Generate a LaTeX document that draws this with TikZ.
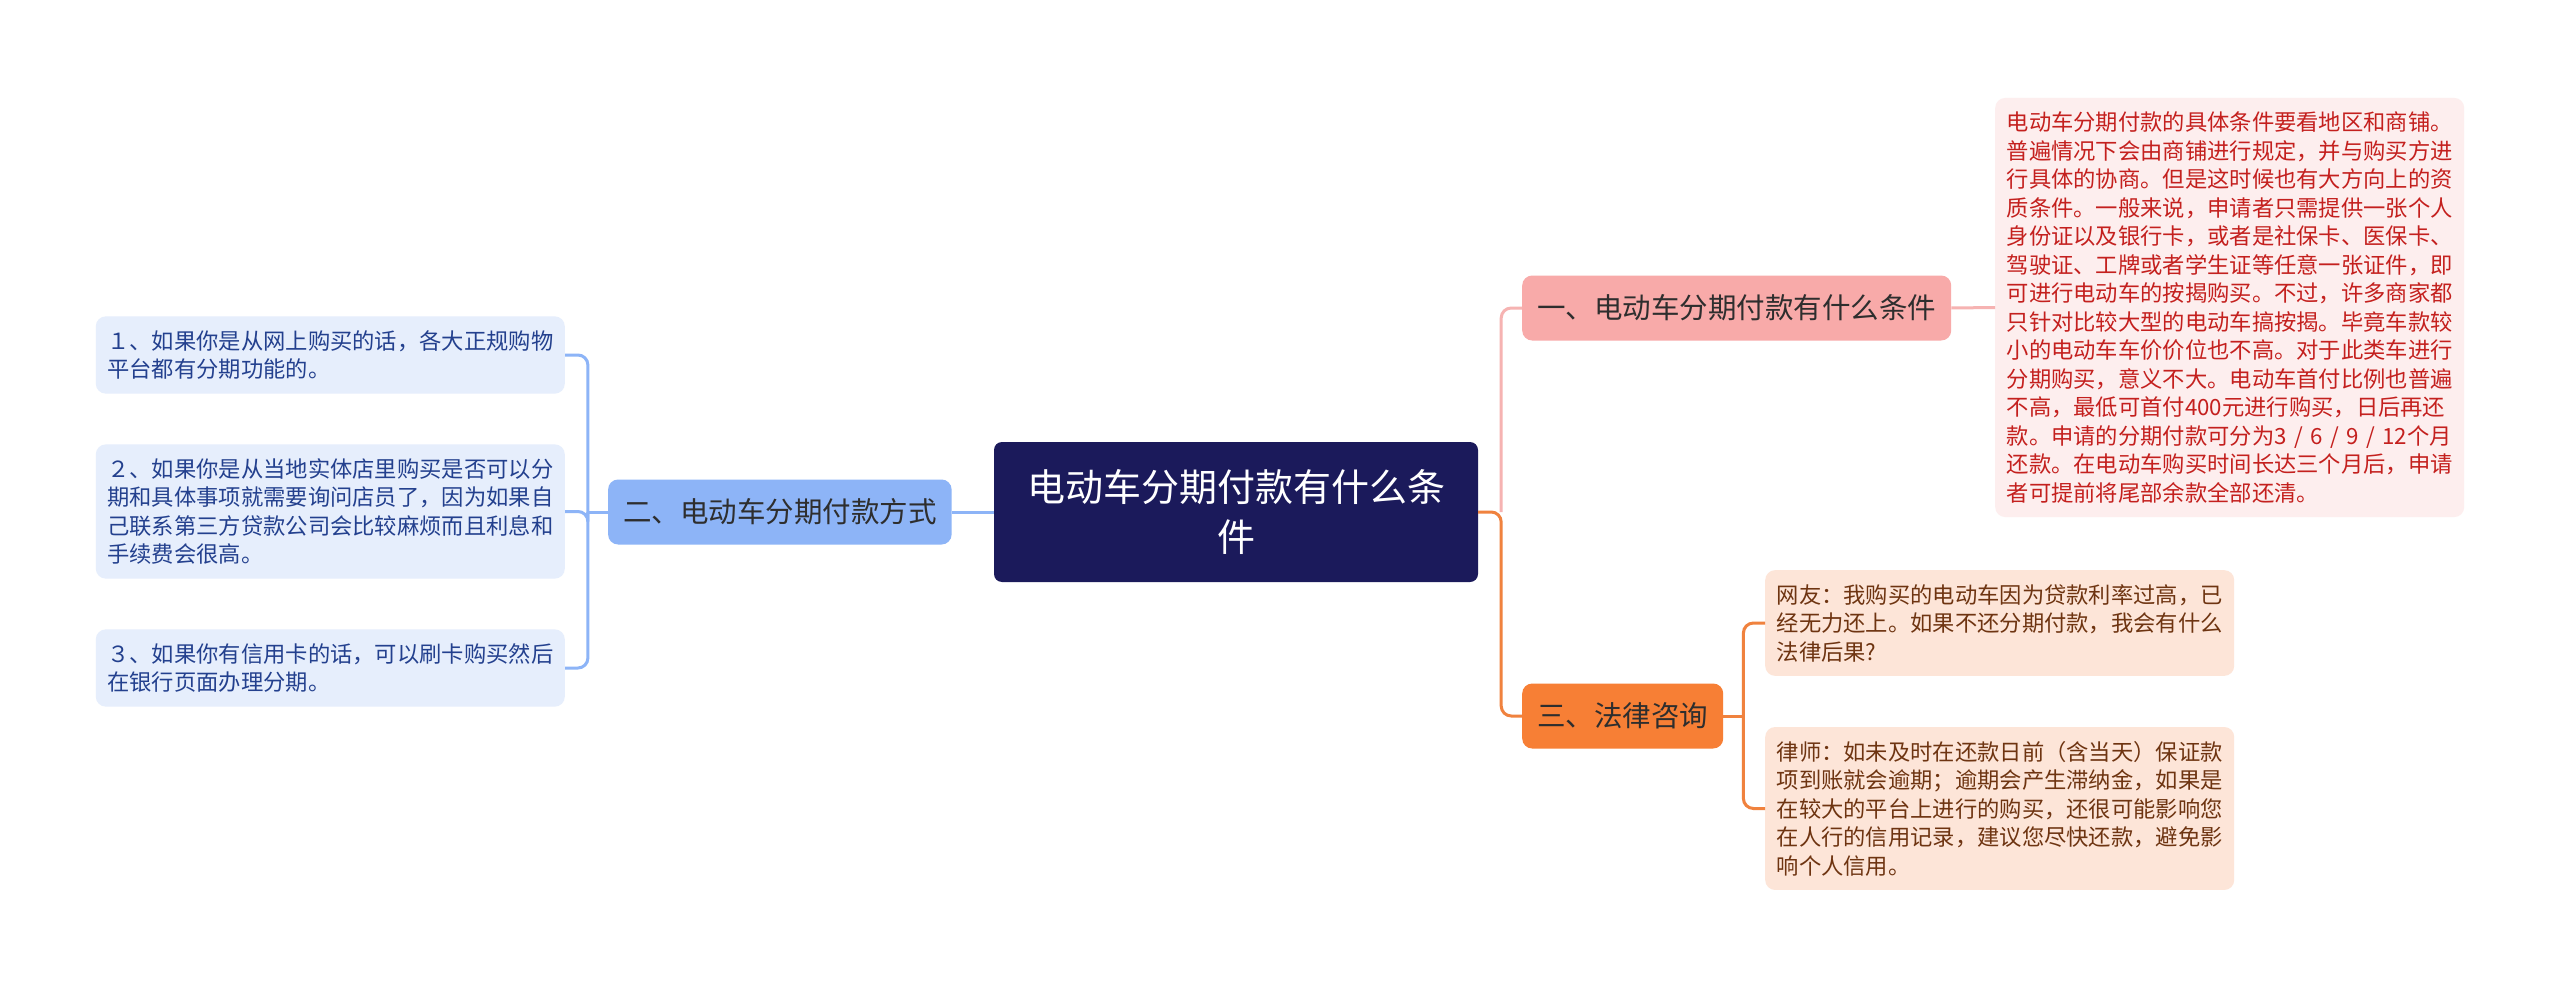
\documentclass[tikz,border=0pt]{standalone}
\usepackage{fontspec}
\setmainfont{Noto Sans CJK SC}
\usepackage{tikz}
\usetikzlibrary{positioning}

\definecolor{rootfill}{HTML}{1B1A5B}
\definecolor{bluefill}{HTML}{8DB4F7}
\definecolor{blueleaf}{HTML}{E6EEFC}
\definecolor{bluetext}{HTML}{23408E}
\definecolor{pinkfill}{HTML}{F8AAA9}
\definecolor{pinkline}{HTML}{F6B3B2}
\definecolor{pinkleaf}{HTML}{FDEEEE}
\definecolor{pinktext}{HTML}{C4201E}
\definecolor{orangefill}{HTML}{F77F35}
\definecolor{orangeline}{HTML}{F0823E}
\definecolor{peachleaf}{HTML}{FDE5D8}
\definecolor{peachtext}{HTML}{6E3411}
\definecolor{branchtext}{HTML}{2E2E2E}

\begin{document}
\begin{tikzpicture}[
  x=1pt, y=1pt,
  root/.style={rectangle, rounded corners=8pt, fill=rootfill, text=white, font=\fontsize{38}{50}\selectfont, text width=424pt, align=center, inner xsep=30pt, minimum height=140pt},
  branch/.style={rectangle, rounded corners=10pt, text=branchtext, font=\fontsize{28.5}{34}\selectfont, inner xsep=15pt, minimum height=65pt},
  leaf/.style={rectangle, rounded corners=10pt, font=\fontsize{22.3}{28.5}\selectfont, align=left, text width=446pt, inner xsep=11.5pt, inner ysep=14pt},
  link/.style={line width=3pt, rounded corners=10pt}
]
  \useasboundingbox[fill=white] (0,0) rectangle (2560,-987);

  % centre and main branches
  \node[root] (root) at (1236,-512) {电动车分期付款有什么条\\件};
  \node[branch, fill=bluefill, left=42pt of root] (way) {二、电动车分期付款方式};
  \node[branch, fill=pinkfill, anchor=west] (cond) at (1522,-308) {一、电动车分期付款有什么条件};
  \node[branch, fill=orangefill, anchor=west] (law) at (1522,-716) {三、法律咨询};

  % left leaves
  \node[leaf, fill=blueleaf, text=bluetext, anchor=east] (online) at (565,-355) {１、如果你是从网上购买的话，各大正规购物\\平台都有分期功能的。};
  \node[leaf, fill=blueleaf, text=bluetext, anchor=east] (store) at (565,-511.5) {２、如果你是从当地实体店里购买是否可以分\\期和具体事项就需要询问店员了，因为如果自\\己联系第三方贷款公司会比较麻烦而且利息和\\手续费会很高。};
  \node[leaf, fill=blueleaf, text=bluetext, anchor=east] (card) at (565,-668) {３、如果你有信用卡的话，可以刷卡购买然后\\在银行页面办理分期。};

  % right leaves
  \node[leaf, fill=pinkleaf, text=pinktext, anchor=west] (detail) at (1995,-307.5) {电动车分期付款的具体条件要看地区和商铺。\\普遍情况下会由商铺进行规定，并与购买方进\\行具体的协商。但是这时候也有大方向上的资\\质条件。一般来说，申请者只需提供一张个人\\身份证以及银行卡，或者是社保卡、医保卡、\\驾驶证、工牌或者学生证等任意一张证件，即\\可进行电动车的按揭购买。不过，许多商家都\\只针对比较大型的电动车搞按揭。毕竟车款较\\小的电动车车价价位也不高。对于此类车进行\\分期购买，意义不大。电动车首付比例也普遍\\不高，最低可首付400元进行购买，日后再还\\款。申请的分期付款可分为3 / 6 / 9 / 12个月\\还款。在电动车购买时间长达三个月后，申请\\者可提前将尾部余款全部还清。};
  \node[leaf, fill=peachleaf, text=peachtext, anchor=west] (ask) at (1765,-623) {网友：我购买的电动车因为贷款利率过高，已\\经无力还上。如果不还分期付款，我会有什么\\法律后果?};
  \node[leaf, fill=peachleaf, text=peachtext, anchor=west] (reply) at (1765,-808.5) {律师：如未及时在还款日前（含当天）保证款\\项到账就会逾期；逾期会产生滞纳金，如果是\\在较大的平台上进行的购买，还很可能影响您\\在人行的信用记录，建议您尽快还款，避免影\\响个人信用。};

  % connectors
  \path (way.west) ++(-20pt,0) coordinate (wayhub);
  \path (root.east) ++(23pt,0) coordinate (roothub);
  \path (law.east) ++(20pt,0) coordinate (lawhub);
  \draw[link, bluefill] (root.west) -- (way.east);
  \draw[link, bluefill] (way.west) -- (wayhub);
  \foreach \n in {online,store,card}
    \draw[link, bluefill] (wayhub) |- (\n.east);
  \draw[link, orangeline] (root.east) -- (roothub) |- (law.west);
  \draw[link, pinkline] (roothub) |- (cond.west);
  \draw[link, pinkline] (cond.east) -- (detail.west);
  \draw[link, orangeline] (law.east) -- (lawhub);
  \foreach \n in {ask,reply}
    \draw[link, orangeline] (lawhub) |- (\n.west);
\end{tikzpicture}
\end{document}
